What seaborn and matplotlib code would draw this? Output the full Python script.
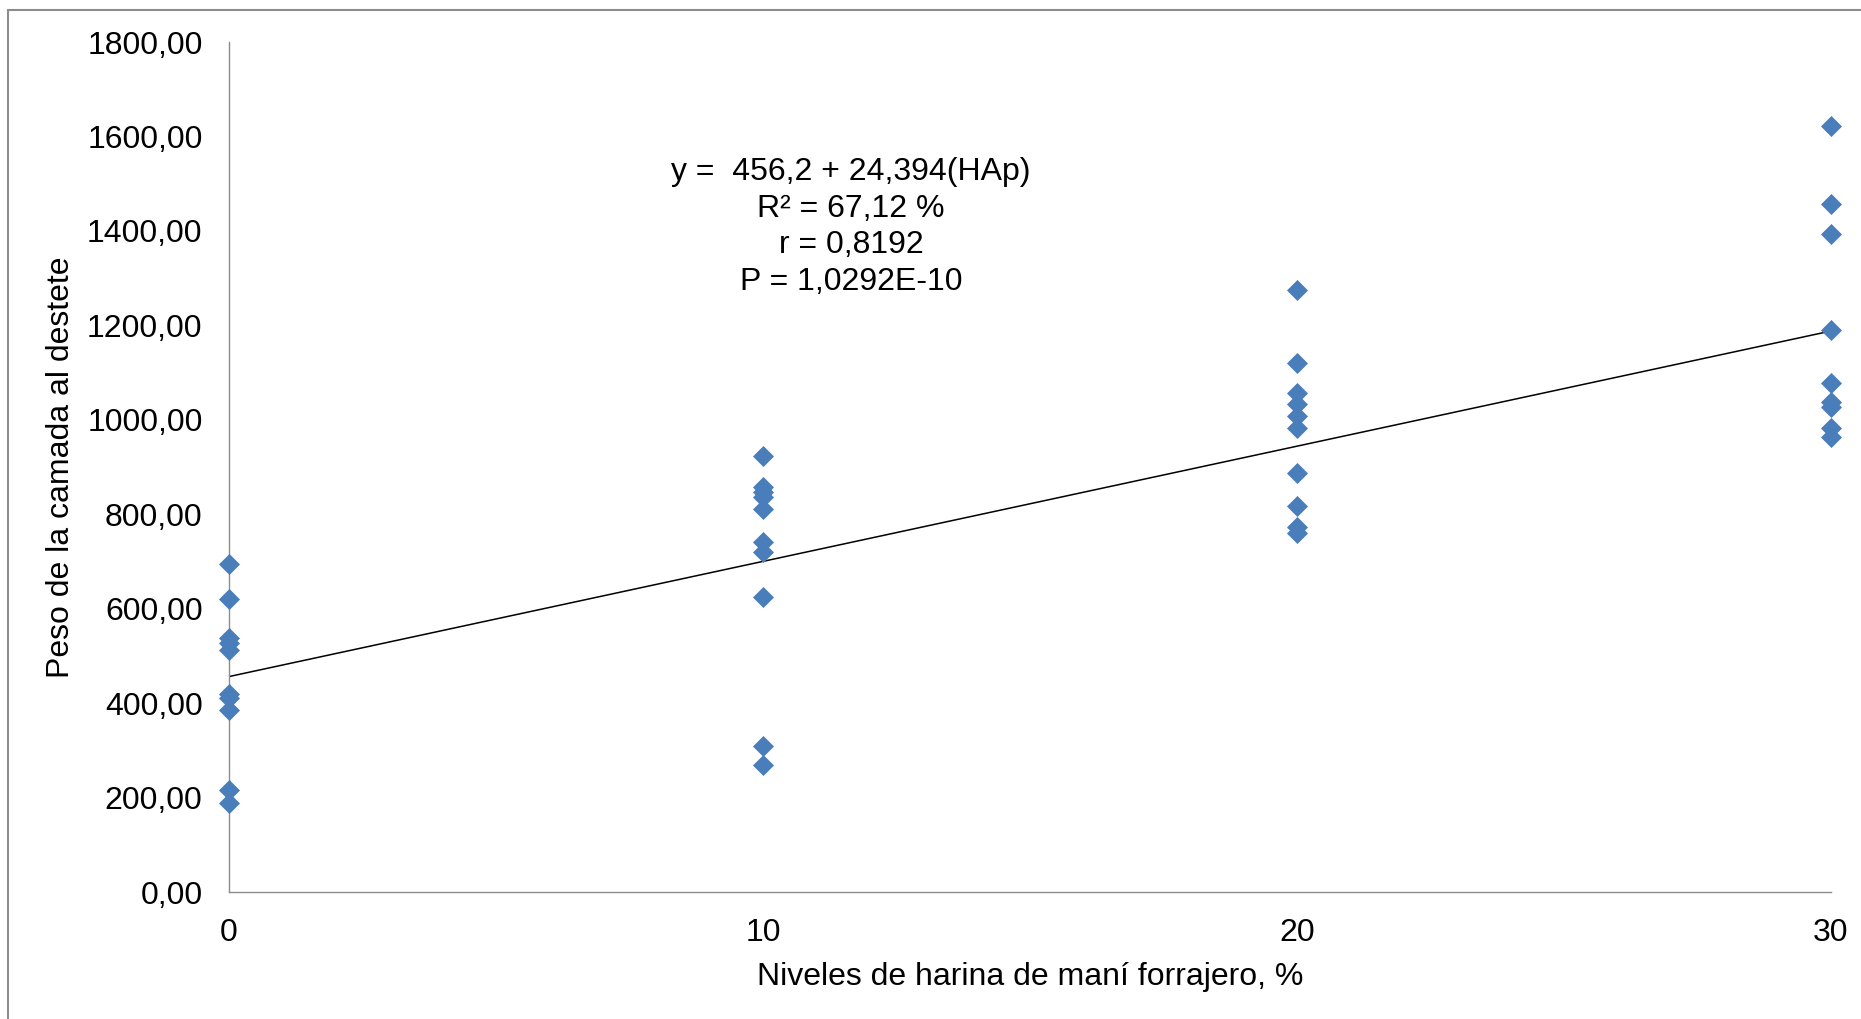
import pandas as pd
import numpy as np
import matplotlib.pyplot as plt
import seaborn as sns
from matplotlib.ticker import FuncFormatter
from matplotlib.lines import Line2D

sns.set_style('white')
plt.rcParams['font.family'] = ['Liberation Sans', 'DejaVu Sans']
plt.rcParams['text.color'] = 'black'
plt.rcParams['axes.labelcolor'] = 'black'
plt.rcParams['xtick.color'] = 'black'
plt.rcParams['ytick.color'] = 'black'

# datos
peso_0 = [695, 620, 537, 527, 512, 420, 410, 385, 217, 188]
peso_10 = [923, 858, 848, 837, 811, 742, 721, 625, 309, 269]
peso_20 = [1275, 1121, 1056, 1033, 1008, 982, 887, 818, 774, 760]
peso_30 = [1622, 1456, 1393, 1190, 1078, 1038, 1028, 982, 964]
niveles = [0, 10, 20, 30]

# recta de regresion
intercepto = 456.2
pendiente = 24.394
x_recta = [0, 30]

texto = 'y =  456,2 + 24,394(HAp)\nR² = 67,12 %\nr = 0,8192\nP = 1,0292E-10'

pesos = [peso_0, peso_10, peso_20, peso_30]
df = pd.DataFrame({
    'nivel': np.concatenate([[n] * len(p) for n, p in zip(niveles, pesos)]),
    'peso': np.concatenate(pesos),
})
recta = pd.DataFrame({'x': x_recta, 'y': [intercepto + pendiente * x for x in x_recta]})

fig = plt.figure(figsize=(18.61, 10.19), dpi=100)
ax = fig.add_axes([229 / 1861, 1 - 892 / 1019, 1602 / 1861, 850 / 1019])

sns.lineplot(data=recta, x='x', y='y', color='black', linewidth=1.1, ax=ax)
sns.scatterplot(data=df, x='nivel', y='peso', marker='D', color='#4A7EBB',
                s=115, linewidth=0, ax=ax, zorder=3, clip_on=False)

ax.set_xlim(0, 30)
ax.set_ylim(0, 1800)
ax.set_xticks(niveles)
ax.set_yticks(range(0, 1801, 200))
ax.yaxis.set_major_formatter(FuncFormatter(lambda v, p: '{:.2f}'.format(v).replace('.', ',')))
ax.tick_params(length=0, labelsize=23, pad=19)

for s in ['top', 'right']:
    ax.spines[s].set_visible(False)
for s in ['left', 'bottom']:
    ax.spines[s].set_color('#8C8C8C')
    ax.spines[s].set_linewidth(1.0)

ax.set_xlabel('Niveles de harina de maní forrajero, %', fontsize=23, labelpad=10)
ax.set_ylabel('Peso de la camada al destete', fontsize=23, labelpad=8)

ax.text(11.65, 1408, texto, fontsize=23, ha='center', va='center',
        multialignment='center', linespacing=1.28)

# marco exterior del grafico
fig.add_artist(Line2D([8 / 1861, 8 / 1861], [0, 1 - 10 / 1019], color='#8C8C8C', linewidth=1.5))
fig.add_artist(Line2D([8 / 1861, 1], [1 - 10 / 1019, 1 - 10 / 1019], color='#8C8C8C', linewidth=1.5))

fig.savefig('out.png', dpi=100)
